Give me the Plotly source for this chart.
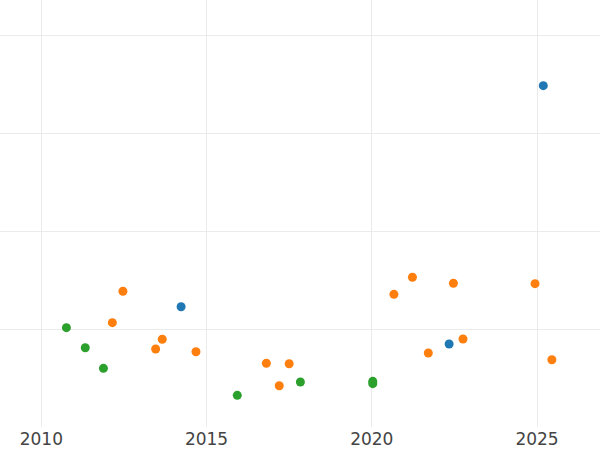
import plotly.graph_objects as go

# Data (x = year, y = value in grid units)
blue_x = [2014.23, 2022.34, 2025.19]
blue_y = [1.230, 0.849, 3.491]

orange_x = [2012.47, 2012.15, 2013.66, 2013.46, 2014.68, 2016.81, 2017.50, 2017.20,
            2020.67, 2021.23, 2022.47, 2024.94, 2021.71, 2022.76, 2025.45]
orange_y = [1.388, 1.067, 0.897, 0.798, 0.770, 0.652, 0.647, 0.422,
            1.357, 1.531, 1.470, 1.466, 0.757, 0.900, 0.688]

green_x = [2010.76, 2011.33, 2011.88, 2015.93, 2017.84, 2020.03, 2020.03]
green_y = [1.016, 0.811, 0.600, 0.324, 0.460, 0.467, 0.443]

x_tickvals = [2010, 2015, 2020, 2025]

fig = go.Figure()
for xs, ys, col in [(blue_x, blue_y, "#1f77b4"),
                    (orange_x, orange_y, "#ff7f0e"),
                    (green_x, green_y, "#2ca02c")]:
    fig.add_trace(go.Scatter(x=xs, y=ys, mode="markers",
                             marker=dict(color=col, size=9),
                             showlegend=False))

fig.update_layout(
    width=600, height=450,
    margin=dict(l=0, r=0, t=0, b=23),
    paper_bgcolor="white", plot_bgcolor="white",
    font=dict(family="DejaVu Sans", size=17, color="#444"),
    showlegend=False,
)
fig.update_xaxes(range=[2008.75, 2026.906], tickvals=x_tickvals,
                 showgrid=True, gridcolor="#ebebeb", gridwidth=1,
                 zeroline=False, showline=False, ticks="")
fig.update_yaxes(range=[0, 4.367], dtick=1, showticklabels=False,
                 showgrid=True, gridcolor="#ebebeb", gridwidth=1,
                 zeroline=False, showline=False, ticks="")

fig.write_html("out.html",
               config={"displayModeBar": False},
               post_script="document.body.style.margin='0';document.body.style.padding='0';")
